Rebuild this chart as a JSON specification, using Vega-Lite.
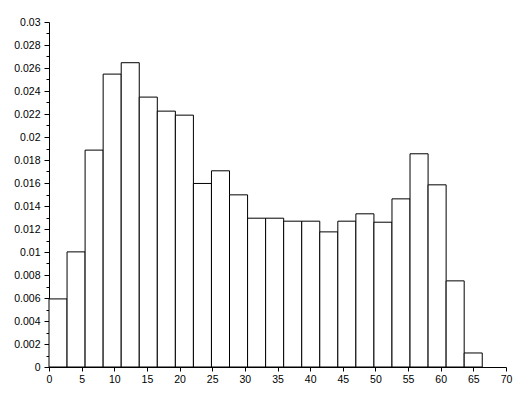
{
  "$schema": "https://vega.github.io/schema/vega-lite/v6.json",
  "autosize": {"type": "none"},
  "padding": {"left": 49, "top": 22, "right": 20, "bottom": 26},
  "width": 457,
  "height": 345,
  "background": "white",
  "config": {
    "view": {"stroke": null},
    "axis": {
      "labelFont": "Liberation Sans",
      "labelFontSize": 10.5,
      "labelColor": "black",
      "domainColor": "black",
      "tickColor": "black",
      "grid": false,
      "title": null
    }
  },
  "data": {
    "values": [
      {"bin_start": 0, "bin_end": 2.765, "density": 0.00592},
      {"bin_start": 2.765, "bin_end": 5.53, "density": 0.01001},
      {"bin_start": 5.53, "bin_end": 8.295, "density": 0.01886},
      {"bin_start": 8.295, "bin_end": 11.06, "density": 0.02547},
      {"bin_start": 11.06, "bin_end": 13.825, "density": 0.02646},
      {"bin_start": 13.825, "bin_end": 16.59, "density": 0.02347},
      {"bin_start": 16.59, "bin_end": 19.355, "density": 0.02225},
      {"bin_start": 19.355, "bin_end": 22.12, "density": 0.0219},
      {"bin_start": 22.12, "bin_end": 24.885, "density": 0.01596},
      {"bin_start": 24.885, "bin_end": 27.65, "density": 0.01706},
      {"bin_start": 27.65, "bin_end": 30.415, "density": 0.01497},
      {"bin_start": 30.415, "bin_end": 33.18, "density": 0.01294},
      {"bin_start": 33.18, "bin_end": 35.945, "density": 0.01294},
      {"bin_start": 35.945, "bin_end": 38.71, "density": 0.01268},
      {"bin_start": 38.71, "bin_end": 41.475, "density": 0.01268},
      {"bin_start": 41.475, "bin_end": 44.24, "density": 0.01175},
      {"bin_start": 44.24, "bin_end": 47.005, "density": 0.01268},
      {"bin_start": 47.005, "bin_end": 49.77, "density": 0.01332},
      {"bin_start": 49.77, "bin_end": 52.535, "density": 0.01259},
      {"bin_start": 52.535, "bin_end": 55.3, "density": 0.01462},
      {"bin_start": 55.3, "bin_end": 58.065, "density": 0.01854},
      {"bin_start": 58.065, "bin_end": 60.83, "density": 0.01584},
      {"bin_start": 60.83, "bin_end": 63.595, "density": 0.00749},
      {"bin_start": 63.595, "bin_end": 66.36, "density": 0.00122}
    ]
  },
  "mark": {"type": "rect", "fill": "white", "stroke": "black", "strokeWidth": 1},
  "encoding": {
    "x": {
      "field": "bin_start",
      "type": "quantitative",
      "scale": {"domain": [0, 70], "nice": false, "zero": false},
      "axis": {
        "values": [0, 5, 10, 15, 20, 25, 30, 35, 40, 45, 50, 55, 60, 65, 70],
        "tickSize": 4,
        "labelPadding": 3,
        "format": "d",
        "labelFlush": false,
        "labelOverlap": false
      }
    },
    "x2": {"field": "bin_end"},
    "y": {
      "field": "density",
      "type": "quantitative",
      "scale": {"domain": [0, 0.03], "nice": false},
      "axis": {
        "values": [0, 0.001, 0.002, 0.003, 0.004, 0.005, 0.006, 0.007, 0.008, 0.009, 0.01, 0.011, 0.012, 0.013, 0.014, 0.015, 0.016, 0.017, 0.018, 0.019, 0.02, 0.021, 0.022, 0.023, 0.024, 0.025, 0.026, 0.027, 0.028, 0.029, 0.03],
        "labelExpr": "round(datum.value*1000) % 2 == 0 ? format(datum.value, '.3~f') : ''",
        "tickSize": {"condition": {"test": "round(datum.value*1000) % 2 == 0", "value": 5}, "value": 3},
        "labelPadding": 4,
        "labelFlush": false,
        "labelOverlap": false
      }
    },
    "y2": {"datum": 0}
  }
}
